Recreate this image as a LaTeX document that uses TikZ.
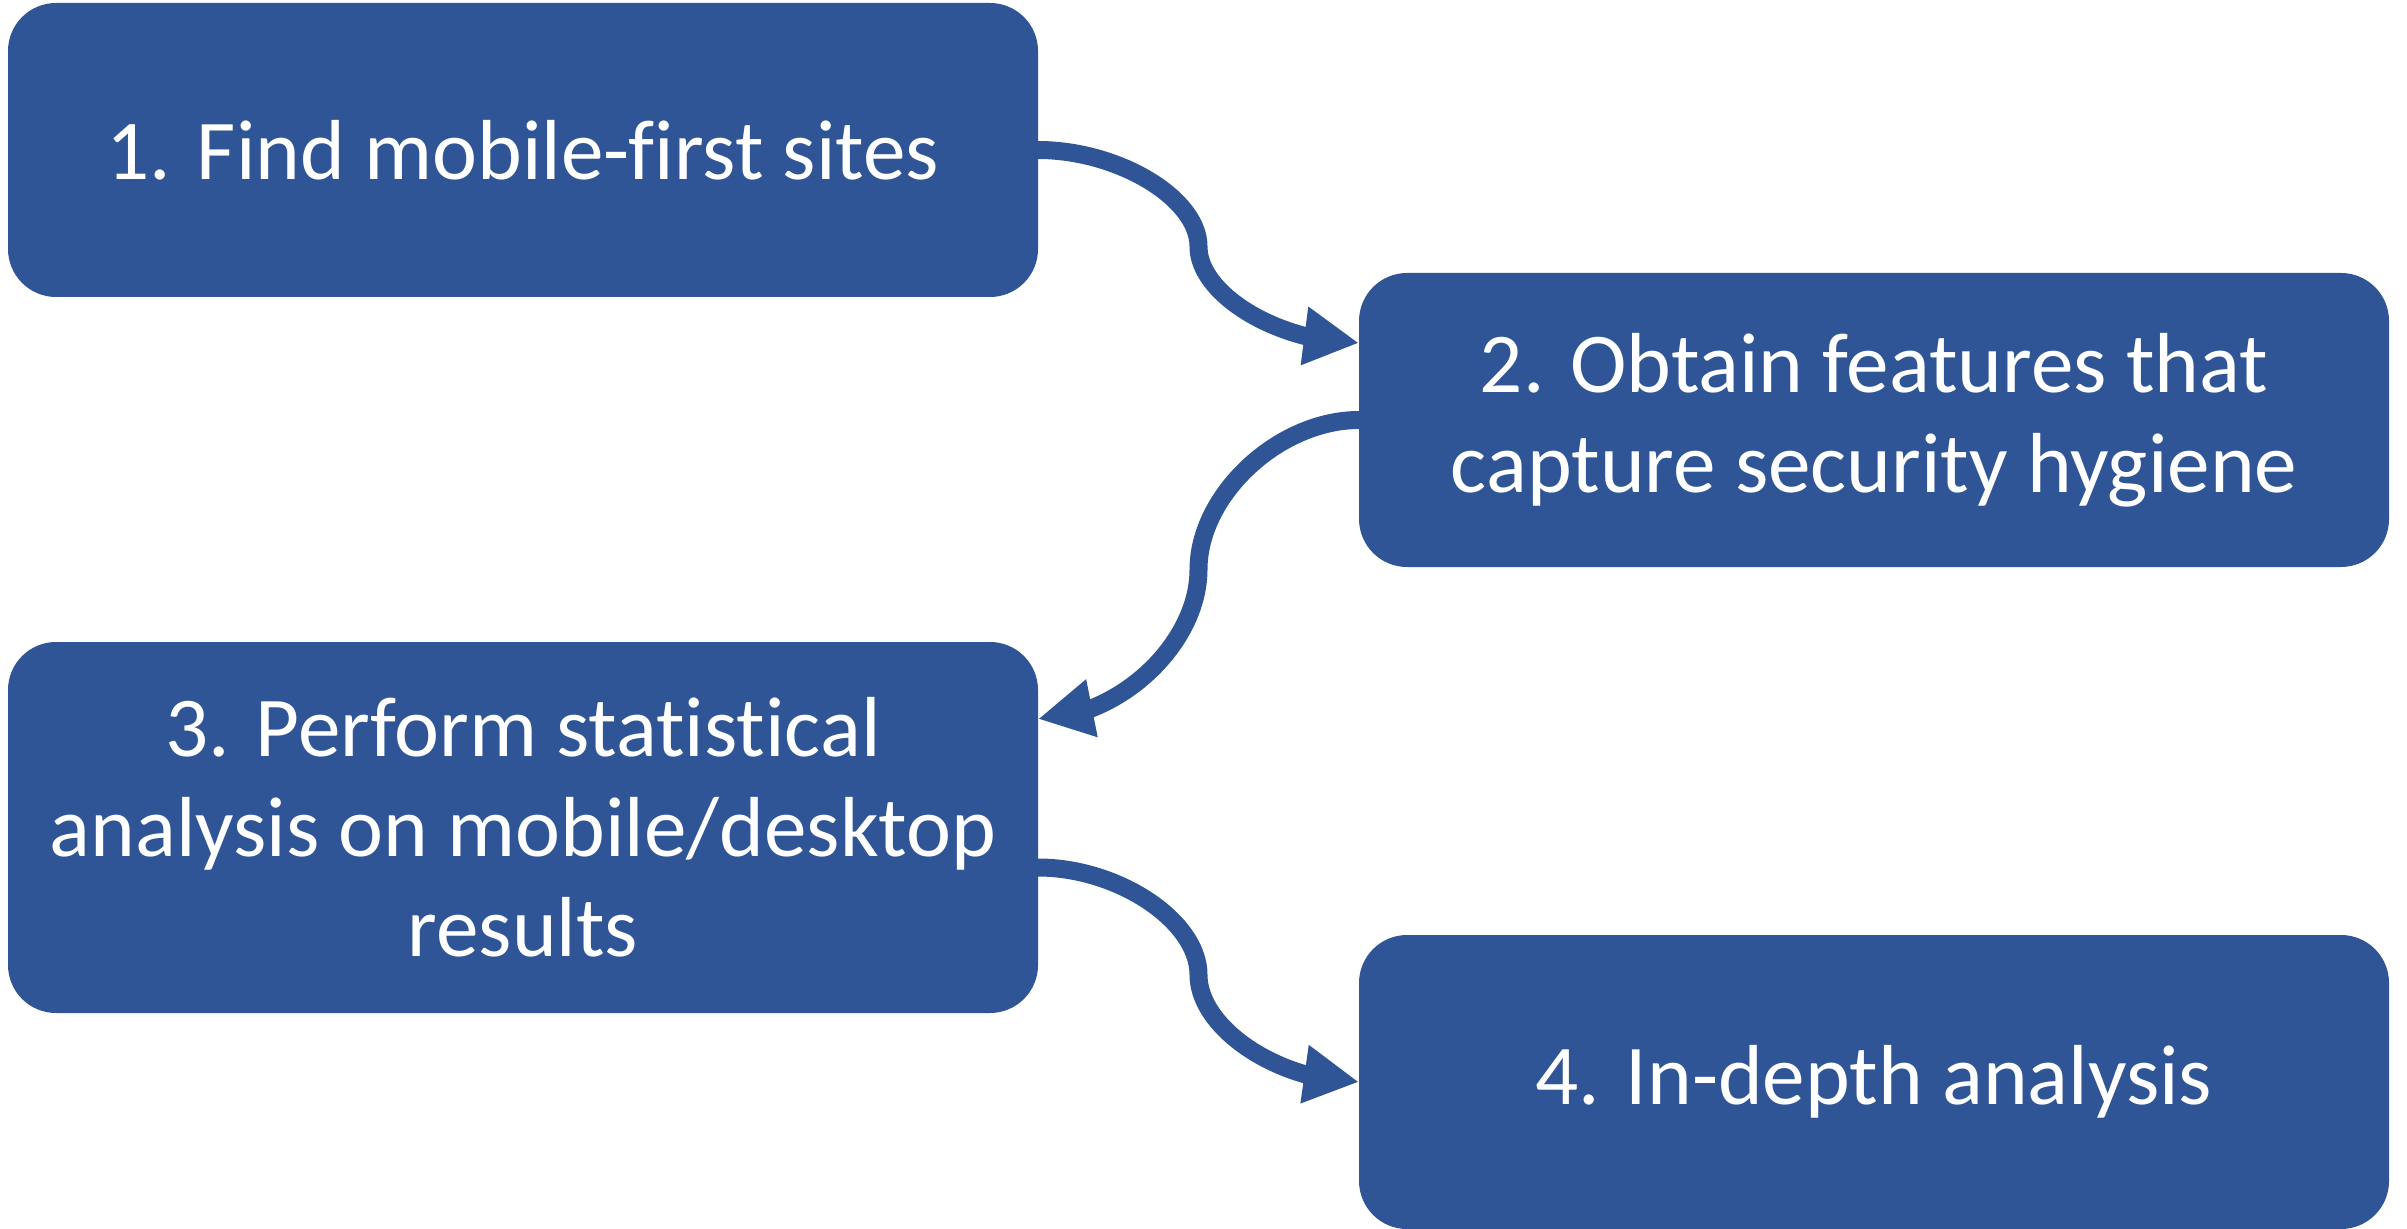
\documentclass[tikz,border=0pt]{standalone}
\usepackage{fontspec}
\setmainfont[Ligatures=NoCommon]{Carlito}
\usetikzlibrary{arrows.meta,bending,calc}
\definecolor{stepblue}{RGB}{47,85,151}
\begin{document}
\begin{tikzpicture}[x=0.25pt,y=-0.25pt,
  stepbox/.style={fill=stepblue,draw=none,rounded corners=12pt,
    minimum width=257.5pt,inner sep=0pt,outer sep=0pt,align=center,
    text=white,font=\fontsize{21.3pt}{25pt}\selectfont},
  conn/.style={draw=stepblue,line width=4.5pt,
    -{Triangle[length=13.75pt,width=13.75pt,flex]}}]
\useasboundingbox (0,0) rectangle (2407,1229);

% process steps
\node[stepbox,minimum height=73.5pt] (b1) at (523,150) {1. Find mobile-first sites};
\node[stepbox,minimum height=73.5pt] (b2) at (1874,420) {2. Obtain features that\\capture security hygiene};
\node[stepbox,minimum height=92.75pt] (b3) at (523,827.5) {3. Perform statistical\\analysis on mobile/desktop\\results};
\node[stepbox,minimum height=73.5pt] (b4) at (1874,1082) {4. In-depth analysis};

% connector end points
\coordinate (e1) at ($(b2.west)+(0,-77)$);
\coordinate (m1) at ($(b1.east)!0.5!(e1)$);
\coordinate (e2) at ($(b3.east)+(0,-108.5)$);
\coordinate (m2) at ($(b2.west)!0.5!(e2)$);
\coordinate (s3) at ($(b3.east)+(0,40)$);
\coordinate (m3) at ($(s3)!0.5!(b4.west)$);

% curved connectors
\draw[conn] (b1.east) .. controls +(80.25,0) and +(0,-48.25) .. (m1)
  .. controls +(0,48.25) and +(-80.25,0) .. (e1);
\draw[conn] (b2.west) .. controls +(-80.25,0) and +(0,-74.75) .. (m2)
  .. controls +(0,74.75) and +(80.25,0) .. (e2);
\draw[conn] (s3) .. controls +(80.25,0) and +(0,-53.75) .. (m3)
  .. controls +(0,53.75) and +(-80.25,0) .. (b4.west);
\end{tikzpicture}
\end{document}
